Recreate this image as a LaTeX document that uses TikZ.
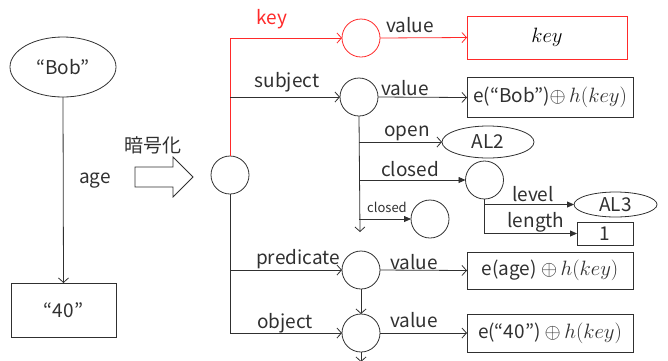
\documentclass[tikz,border=0pt]{standalone}
\usepackage{fontspec}
\setmainfont{Noto Sans CJK JP}
\usetikzlibrary{arrows.meta,shapes.geometric}
\definecolor{ln}{HTML}{303030}
\definecolor{rd}{HTML}{FF2A2A}
\newcommand{\hk}{{\fontsize{21}{23}\selectfont$\oplus\, h(key)$}}
\tikzset{
  every node/.style={inner sep=0pt,outer sep=0pt},
  conn/.style={draw=ln,line width=0.8pt},
  arr/.style={conn,-{Straight Barb[length=4.5pt,width=10pt]}},
  farr/.style={conn,-{Triangle[length=7pt,width=6pt]}},
  rarr/.style={draw=rd,line width=0.8pt,-{Straight Barb[length=4.5pt,width=10pt]}},
  circ/.style={circle,draw=ln,line width=0.8pt,minimum size=38pt},
  ell/.style={ellipse,draw=ln,line width=0.8pt},
  box/.style={rectangle,draw=ln,line width=0.8pt},
  lbl/.style={font=\fontsize{19}{21}\selectfont,text=ln},
  slbl/.style={font=\fontsize{13}{15}\selectfont,text=ln},
  mth/.style={font=\fontsize{19}{21}\selectfont,text=ln},
}
\begin{document}
\begin{tikzpicture}[x=1pt,y=-1pt]
\useasboundingbox (0,0) rectangle (668,360);
% left graph
\node[ell,minimum width=106pt,minimum height=60pt,lbl] (bob) at (63,67) {“Bob”};
\node[box,minimum width=105pt,minimum height=54pt,lbl] (forty) at (63.5,310) {“40”};
\draw[arr] (bob.south) -- (forty.north);
\node[lbl] (age) at (95,181) {age};
% encryption arrow
\node[lbl] (enc) at (153,145) {暗号化};
\draw[draw=ln,line width=0.8pt,fill=white] (135,167) -- (173,167) -- (173,157) -- (193,177) -- (173,197) -- (173,187) -- (135,187) -- cycle;
% root
\node[circ] (root) at (230,175) {};
% key row
\node[circle,draw=rd,line width=0.8pt,minimum size=38pt] (keyc) at (361,38) {};
\node[rectangle,draw=rd,line width=0.8pt,minimum width=160pt,minimum height=43pt,font=\fontsize{22}{24}\selectfont] (keybox) at (547,37.5) {$key$};
\draw[rarr] (root.north) |- (keyc.west);
\draw[rarr] (keyc.east) -- (keybox.west);
\node[lbl,text=rd] (keyl) at (272,19) {key};
\node[lbl] (v1) at (410,25) {value};
% subject row
\node[circ] (subj) at (359,97) {};
\node[box,minimum width=166pt,minimum height=40pt,mth] (subjbox) at (550,97.5) {e(“Bob”)\hk};
\draw[arr] (root.north |- subj) -- (subj.west);
\draw[arr] (subj.east) -- (subjbox.west);
\node[lbl] (subjl) at (287,82) {subject};
\node[lbl] (v2) at (405,88) {value};
% subject children
\node[ell,minimum width=92pt,minimum height=32pt,lbl] (al2) at (488,142) {AL2};
\node[circ] (cl) at (484.5,180) {};
\node[circ] (cl2) at (430,219) {};
\coordinate (subjend) at (360,232);
\draw[arr] (subj.south) -- (subjend);
\draw[arr] (subj.south |- al2) -- (al2.west);
\draw[farr] (subj.south |- cl) -- (cl.west);
\draw[farr] (subj.south |- cl2) -- (cl2.west);
\node[lbl] (openl) at (407,133) {open};
\node[lbl] (closedl) at (410,169) {closed};
\node[slbl] (closed2l) at (387,207) {closed};
% closed children
\node[ell,minimum width=83pt,minimum height=25pt,lbl] (al3) at (615.5,204.5) {AL3};
\node[box,minimum width=56pt,minimum height=23pt,lbl] (len) at (605,233.5) {1};
\draw[farr] (cl.south) |- (len.west);
\draw[farr] (cl.south |- al3) -- (al3.west);
\node[lbl] (levell) at (533,194) {level};
\node[lbl] (lengthl) at (536,222) {length};
% predicate and object
\node[circ] (pred) at (361,270) {};
\node[circ] (obj) at (361,333) {};
\node[box,minimum width=166pt,minimum height=37pt,mth] (predbox) at (550,270.5) {e(age) \hk};
\node[box,minimum width=166pt,minimum height=38pt,mth] (objbox) at (550,333) {e(“40”) \hk};
\coordinate (objend) at (361,362);
\draw[conn] (root.south) -- (root.south |- obj);
\draw[arr] (root.south |- pred) -- (pred.west);
\draw[arr] (root.south |- obj) -- (obj.west);
\draw[arr] (pred.south) -- (obj.north);
\draw[arr] (obj.south) -- (objend);
\draw[arr] (pred.east) -- (predbox.west);
\draw[arr] (obj.east) -- (objbox.west);
\node[lbl] (predl) at (298,259) {predicate};
\node[lbl] (objl) at (285,323) {object};
\node[lbl] (v3) at (414,262) {value};
\node[lbl] (v4) at (414,320) {value};
\end{tikzpicture}
\end{document}
